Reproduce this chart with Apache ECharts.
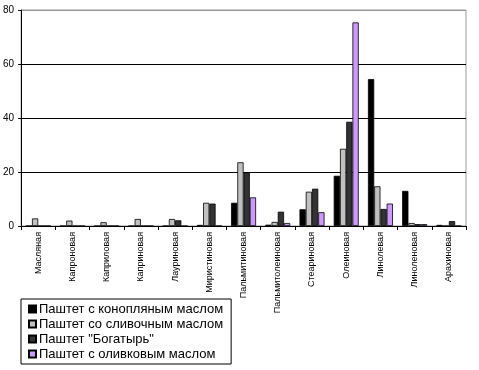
<!DOCTYPE html>
<html><head><meta charset="utf-8">
<script src="https://cdn.jsdelivr.net/npm/echarts@6/dist/echarts.min.js"></script>
<style>html,body{margin:0;padding:0;background:#fff}#c{width:479px;height:370px}</style>
</head><body><div id="c"></div>
<script>
var categories = ['Масляная','Капроновая','Каприловая','Каприновая','Лауриновая','Миристиновая','Пальмитиновая','Пальмитолеиновая','Стеариновая','Олеиновая','Линолевая','Линоленовая','Арахиновая'];
var seriesNames = ['Паштет с конопляным маслом','Паштет со сливочным маслом','Паштет "Богатырь"','Паштет с оливковым маслом'];
var hemp    = [0, 0, 0, 0, 0, 0.4, 8.6, 0.5, 6.2, 18.6, 54.4, 13.0, 0.4];
var butter  = [2.8, 2.0, 1.4, 2.6, 2.6, 8.6, 23.6, 1.5, 12.7, 28.6, 14.7, 1.1, 0];
var bogatyr = [0, 0, 0, 0, 2.1, 8.3, 19.9, 5.3, 13.8, 38.6, 6.3, 0.7, 1.8];
var olive   = [0, 0, 0, 0, 0, 0, 10.6, 1.1, 5.1, 75.4, 8.3, 0.7, 0];
var yTicks = [0, 20, 40, 60, 80];
var colors = ['#000000', '#c0c0c0', '#333333', '#cc99ff'];
var values = [hemp, butter, bogatyr, olive];
var font = 'Liberation Sans, Arial, sans-serif';
var chart = echarts.init(document.getElementById('c'));
chart.setOption({
  animation: false,
  backgroundColor: '#fff',
  grid: {left: 20, right: 13, top: 10, bottom: 144, show: true, borderColor: '#999', borderWidth: 1},
  legend: {
    orient: 'vertical', left: 21, top: 299, icon: 'rect',
    itemWidth: 7, itemHeight: 7, itemGap: 1,
    borderColor: '#000', borderWidth: 1, padding: [3, 8, 3, 7],
    textStyle: {fontFamily: font, fontSize: 13, color: '#000', lineHeight: 14, padding: [0, 0, 0, -2]},
    data: seriesNames
  },
  xAxis: {
    type: 'category', data: categories,
    axisLine: {lineStyle: {color: '#000', width: 1}},
    axisTick: {show: true, length: 4, lineStyle: {color: '#000'}},
    axisLabel: {interval: 0, rotate: 90, margin: 6, fontSize: 9, fontFamily: font, color: '#000'}
  },
  yAxis: {
    type: 'value', min: yTicks[0], max: yTicks[yTicks.length - 1], interval: 20,
    axisLine: {show: true, lineStyle: {color: '#000', width: 1}},
    axisTick: {show: true, length: 3, lineStyle: {color: '#000'}},
    axisLabel: {fontSize: 10, fontFamily: font, color: '#000', margin: 7},
    splitLine: {show: true, lineStyle: {color: ['#000', '#000', '#000', '#000', '#999'], width: 1}}
  },
  series: seriesNames.map(function (n, i) {
    return {
      name: n, type: 'bar', data: values[i],
      barGap: '0%', barCategoryGap: '27%',
      itemStyle: {color: colors[i], borderColor: '#000', borderWidth: 0.8}
    };
  })
});
</script></body></html>
